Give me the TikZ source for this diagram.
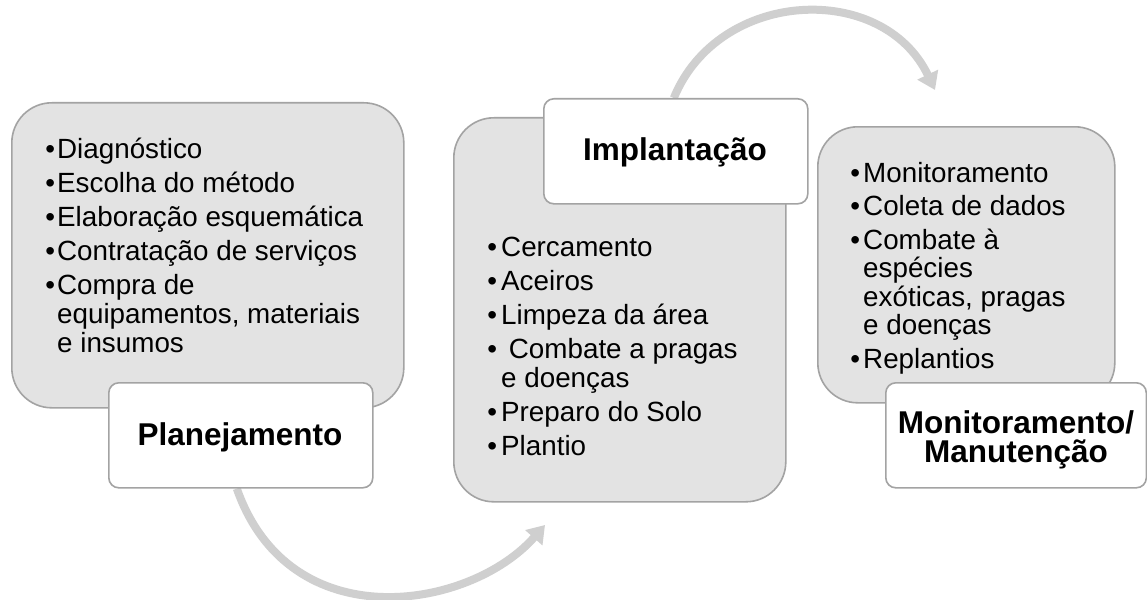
\documentclass[tikz,border=0pt]{standalone}
\usepackage{fontspec}
\setmainfont{Liberation Sans}
\usetikzlibrary{arrows.meta}
\pgfdeclarelayer{back}
\pgfdeclarelayer{bg}
\pgfsetlayers{back,bg,main}
\definecolor{boxgray}{HTML}{E3E3E3}
\definecolor{edgegray}{HTML}{A3A3A3}
\definecolor{arcgray}{HTML}{CFCFCF}
\newcommand\bul[1][3pt]{\llap{•\hspace{#1}}}
\begin{document}
\begin{tikzpicture}[x=1pt,y=-1pt,
  panel/.style={draw=edgegray,line width=1.6pt,fill=boxgray,rounded corners=40pt,
    anchor=north west,inner sep=0pt},
  titlebox/.style={draw=edgegray,line width=1.6pt,fill=white,rounded corners=10pt,
    anchor=north west,inner sep=0pt,minimum width=264pt,minimum height=105pt},
  itemtext/.style={anchor=base west,inner sep=0pt,font=\fontsize{27.8}{28}\selectfont},
  headtext/.style={anchor=base,inner sep=0pt,font=\bfseries\fontsize{31.5}{29}\selectfont,align=center},
  flow/.style={draw=arcgray,line width=8pt,-{Triangle[width=22pt,length=17pt]}}
]
\useasboundingbox (0,0) rectangle (1147,599);
\begin{pgfonlayer}{back}
\fill[white] (0,0) rectangle (1147,599);
\end{pgfonlayer}

% panels
\node[panel,minimum width=392pt,minimum height=305pt] (p1) at (11,102) {};
\node[titlebox] (plan) at (108,382) {};
\node[panel,minimum width=332pt,minimum height=384pt] (p2) at (453,117) {};
\node[titlebox] (impl) at (543,98) {};
\node[panel,minimum width=297pt,minimum height=276pt] (p3) at (817,126) {};
\node[titlebox,minimum width=260.5pt] (mon) at (885,382) {};

% headings
\node[headtext] (planT) at (240,445) {Planejamento};
\node[headtext] (implT) at (675,160) {Implantação};
\node[headtext] (monT1) at (1016,433) {Monitoramento/};
\node[headtext] (monT2) at (1016,462) {Manutenção};

% panel 1 items
\node[itemtext] (a1) at (57,158) {\bul[2pt]Diagnóstico};
\node[itemtext] (a2) at (57,192) {\bul[2pt]Escolha do método};
\node[itemtext] (a3) at (57,226) {\bul[2pt]Elaboração esquemática};
\node[itemtext] (a4) at (57,260) {\bul[2pt]Contratação de serviços};
\node[itemtext] (a5) at (57,294) {\bul[2pt]Compra de};
\node[itemtext] (a6) at (57,323) {equipamentos, materiais};
\node[itemtext] (a7) at (57,352) {e insumos};

% panel 2 items
\node[itemtext] (b1) at (501,256) {\bul[4pt]Cercamento};
\node[itemtext] (b2) at (501,290) {\bul[4pt]Aceiros};
\node[itemtext] (b3) at (501,324) {\bul[4pt]Limpeza da área};
\node[itemtext] (b4) at (501,358) {\bul[4pt]\ Combate a pragas};
\node[itemtext] (b5) at (501,387) {e doenças};
\node[itemtext] (b6) at (501,421) {\bul[4pt]Preparo do Solo};
\node[itemtext] (b7) at (501,455) {\bul[4pt]Plantio};

% panel 3 items
\node[itemtext] (c1) at (863,182) {\bul[3pt]Monitoramento};
\node[itemtext] (c2) at (863,215.5) {\bul[3pt]Coleta de dados};
\node[itemtext] (c3) at (863,249) {\bul[3pt]Combate à};
\node[itemtext] (c4) at (863,277.5) {espécies};
\node[itemtext] (c5) at (863,306) {exóticas, pragas};
\node[itemtext] (c6) at (863,334.5) {e doenças};
\node[itemtext] (c7) at (863,368) {\bul[3pt]Replantios};

% arrows
\coordinate (tip1) at (545,525);
\coordinate (tip2) at (935,90);
\begin{pgfonlayer}{bg}
\draw[flow] ([xshift=-4pt]plan.south) .. controls (290,640) and (470,610) .. (tip1);
\draw[flow] ([xshift=-2pt]impl.north) .. controls (719,-12) and (883,-19) .. (tip2);
\end{pgfonlayer}
\end{tikzpicture}
\end{document}
